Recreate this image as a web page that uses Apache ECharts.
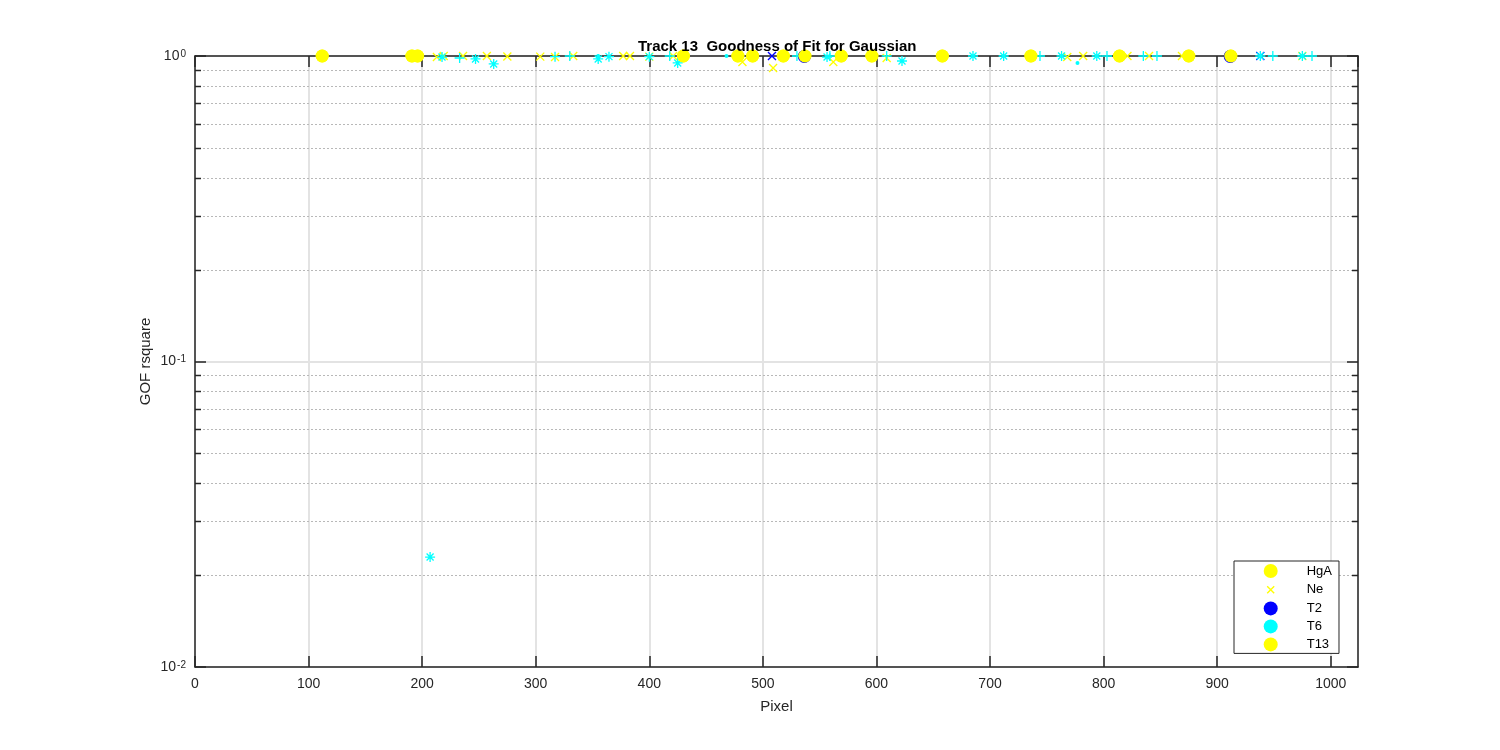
<!DOCTYPE html>
<html>
<head>
<meta charset="utf-8">
<script src="https://cdn.jsdelivr.net/npm/echarts@6/dist/echarts.min.js"></script>
<style>html,body{margin:0;padding:0;background:#fff}#c{width:1500px;height:750px}</style>
</head>
<body>
<div id="c"></div>
<script>
// ---- data ----
const titleText = 'Track 13  Goodness of Fit for Gaussian';
const xName = 'Pixel';
const yName = 'GOF rsquare';
const xMin = 0, xMax = 1024, xStep = 100;
const yMin = 0.01, yMax = 1;
const minorVals = [0.02,0.03,0.04,0.05,0.06,0.07,0.08,0.09,0.2,0.3,0.4,0.5,0.6,0.7,0.8,0.9];
const legendNames = ['HgA', 'Ne', 'T2', 'T6', 'T13'];

const hgaX = [112, 191, 196, 430, 478, 491, 518, 537, 569, 596, 658, 736, 814, 875, 912];
const hgaY = [1.0, 1.0, 1.0, 1.0, 1.0, 1.0, 1.0, 1.0, 1.0, 1.0, 1.0, 1.0, 1.0, 1.0, 1.0];

const neX = [213, 219, 236, 257, 275, 304, 317, 333, 377, 383, 400, 421, 482, 509, 562, 609, 768, 782, 821, 840, 869, 975];
const neY = [0.992, 1.0, 1.0, 1.0, 0.996, 0.995, 0.992, 1.0, 1.0, 1.0, 0.995, 1.0, 0.956, 0.914, 0.956, 0.985, 0.992, 1.0, 1.0, 1.0, 1.0, 1.0];

const t2CircX = [536.5, 911.5];
const t2CircY = [0.997, 0.997];
const t2CrossX = [508, 938];
const t2CrossY = [1.0, 1.0];

const t6StarX = [207, 217.5, 247, 263, 355, 364.5, 400, 425, 556.5, 622.5, 685, 712, 763, 794, 938, 975];
const t6StarY = [0.0229, 0.992, 0.978, 0.942, 0.978, 0.995, 0.995, 0.949, 0.992, 0.963, 1.0, 1.0, 1.0, 1.0, 1.0, 1.0];
const t6PlusX = [233, 317, 330, 418, 530, 559, 609, 744, 803, 835, 847, 949, 983.5];
const t6PlusY = [0.985, 0.995, 1.0, 1.0, 1.0, 1.0, 1.0, 1.0, 1.0, 1.0, 1.0, 1.0, 1.0];
const t6DotX = [355, 468, 777];
const t6DotY = [1.0, 1.0, 0.949];

const t13X = [112, 191, 196, 430, 478, 491, 518, 537, 569, 596, 658, 736, 814, 875, 912];
const t13Y = [1.0, 1.0, 1.0, 1.0, 1.0, 1.0, 1.0, 1.0, 1.0, 1.0, 1.0, 1.0, 1.0, 1.0, 1.0];

// ---- styling ----
const YEL = '#ffff00', CYA = '#00ffff', BLU = '#0000ff', AX = '#262626';
const FONT = 'Liberation Sans, Arial, Helvetica, sans-serif';
const SYM_X = 'path://M0,0L10,10M10,0L0,10';
const SYM_STAR = 'path://M5,0L5,10M0,5L10,5M1.5,1.5L8.5,8.5M8.5,1.5L1.5,8.5';
const SYM_PLUS = 'path://M5,0L5,10M0,5L10,5';
const LEG_X = 'path://M0,0M14,14M3.5,3.5L10.5,10.5M10.5,3.5L3.5,10.5';

const zip = (xs, ys) => xs.map((x, i) => [x, ys[i]]);

function scatter(name, xs, ys, symbol, size, color, stroke) {
  return {
    name: name, type: 'scatter', data: zip(xs, ys), symbol: symbol, symbolSize: size,
    xAxisIndex: 0, yAxisIndex: 0, silent: true, animation: false,
    itemStyle: stroke ? {color: color, borderColor: color, borderWidth: 1.3, opacity: 1}
                      : {color: color, borderWidth: 0, opacity: 1}
  };
}

const chart = echarts.init(document.getElementById('c'), null, {renderer: 'canvas'});
const option = {
  backgroundColor: '#fff',
  animation: false,
  title: {
    text: titleText, left: 633, top: 34,
    textStyle: {fontFamily: FONT, fontSize: 15, fontWeight: 'bold', color: '#000'}
  },
  grid: {left: 195, right: 142, top: 56, bottom: 83, containLabel: false},
  legend: {
    orient: 'vertical', left: 1234, top: 561,
    backgroundColor: '#fff', borderColor: AX, borderWidth: 1, borderRadius: 0,
    padding: [3, 7, 2, 29], itemGap: 4, itemWidth: 14, itemHeight: 14,
    selectedMode: false,
    formatter: n => '{g| }{t|' + n + '}',
    textStyle: {fontFamily: FONT, fontSize: 13, color: '#000',
      rich: {g: {width: 24}, t: {fontFamily: FONT, fontSize: 13, color: '#000'}}},
    data: [
      {name: 'HgA', icon: 'circle', itemStyle: {color: YEL, borderWidth: 0}},
      {name: 'Ne', icon: LEG_X, itemStyle: {color: YEL, borderColor: YEL, borderWidth: 1.4}},
      {name: 'T2', icon: 'circle', itemStyle: {color: BLU, borderWidth: 0}},
      {name: 'T6', icon: 'circle', itemStyle: {color: CYA, borderWidth: 0}},
      {name: 'T13', icon: 'circle', itemStyle: {color: YEL, borderWidth: 0}}
    ]
  },
  xAxis: [{
    type: 'value', min: xMin, max: xMax, interval: xStep, position: 'bottom',
    name: xName, nameLocation: 'middle', nameGap: 32, nameMoveOverlap: false,
    nameTextStyle: {fontFamily: FONT, fontSize: 15, color: AX},
    axisLine: {show: true, onZero: false, lineStyle: {color: AX, width: 1.5}},
    axisTick: {show: true, inside: true, length: 11, lineStyle: {color: AX, width: 1.5}},
    axisLabel: {show: true, margin: 10, fontFamily: FONT, fontSize: 14, color: AX,
      showMaxLabel: false, formatter: v => String(v)},
    splitLine: {show: true, lineStyle: {color: '#e3e3e3', width: 2}}
  }, {
    type: 'value', min: xMin, max: xMax, interval: xStep, position: 'top',
    axisLine: {show: true, onZero: false, lineStyle: {color: AX, width: 1.5}},
    axisTick: {show: true, inside: true, length: 11, lineStyle: {color: AX, width: 1.5}},
    axisLabel: {show: false}, splitLine: {show: false}
  }],
  yAxis: [{
    type: 'log', logBase: 10, min: yMin, max: yMax, position: 'left',
    name: yName, nameLocation: 'middle', nameGap: 42, nameMoveOverlap: false,
    nameTextStyle: {fontFamily: FONT, fontSize: 15, color: AX},
    axisLine: {show: true, onZero: false, lineStyle: {color: AX, width: 1.5}},
    axisTick: {show: true, inside: true, length: 11, lineStyle: {color: AX, width: 1.5}},
    axisLabel: {
      show: true, margin: 9,
      formatter: v => '{b|10}{s|' + Math.round(Math.log10(v)) + '}',
      rich: {
        b: {fontFamily: FONT, fontSize: 14, color: AX, lineHeight: 14, padding: [3, 0, 0, 0], verticalAlign: 'bottom'},
        s: {fontFamily: FONT, fontSize: 10, color: AX, lineHeight: 10, padding: [0, 0, 0, 1], verticalAlign: 'top'}
      }
    },
    splitLine: {show: true, lineStyle: {color: '#e3e3e3', width: 2}}
  }, {
    type: 'log', logBase: 10, min: yMin, max: yMax, position: 'right',
    axisLine: {show: true, onZero: false, lineStyle: {color: AX, width: 1.5}},
    axisTick: {show: true, inside: true, length: 11, lineStyle: {color: AX, width: 1.5}},
    axisLabel: {show: false}, splitLine: {show: false}
  }],
  series: [
    {
      name: 'minorGrid', type: 'custom', silent: true, animation: false, z: 1,
      xAxisIndex: 0, yAxisIndex: 0, clip: false,
      data: minorVals.map(v => [xMin, v]),
      renderItem: function (params, api) {
        const v = api.value(1);
        const p1 = api.coord([xMin, v]);
        const p2 = api.coord([xMax, v]);
        const y = Math.round(p1[1]) + 0.5;
        return {
          type: 'group', children: [
            {type: 'line', shape: {x1: p1[0], y1: y, x2: p2[0], y2: y},
             style: {stroke: '#b8b8b8', lineWidth: 1, lineDash: [2, 2]}},
            {type: 'line', shape: {x1: p1[0], y1: y, x2: p1[0] + 6, y2: y},
             style: {stroke: AX, lineWidth: 1.5}},
            {type: 'line', shape: {x1: p2[0] - 6, y1: y, x2: p2[0], y2: y},
             style: {stroke: AX, lineWidth: 1.5}}
          ]
        };
      }
    },
    scatter('HgA', hgaX, hgaY, 'circle', 13, YEL, false),
    scatter('Ne', neX, neY, SYM_X, 8, YEL, true),
    scatter('T2', t2CircX, t2CircY, 'circle', 13, BLU, false),
    scatter('T2', t2CrossX, t2CrossY, SYM_X, 8, BLU, true),
    scatter('T6', t6StarX, t6StarY, SYM_STAR, 10, CYA, true),
    scatter('T6', t6PlusX, t6PlusY, SYM_PLUS, 10, CYA, true),
    scatter('T6', t6DotX, t6DotY, 'circle', 4, CYA, false),
    scatter('T13', t13X, t13Y, 'circle', 13, YEL, false)
  ]
};
chart.setOption(option);
</script>
</body>
</html>
